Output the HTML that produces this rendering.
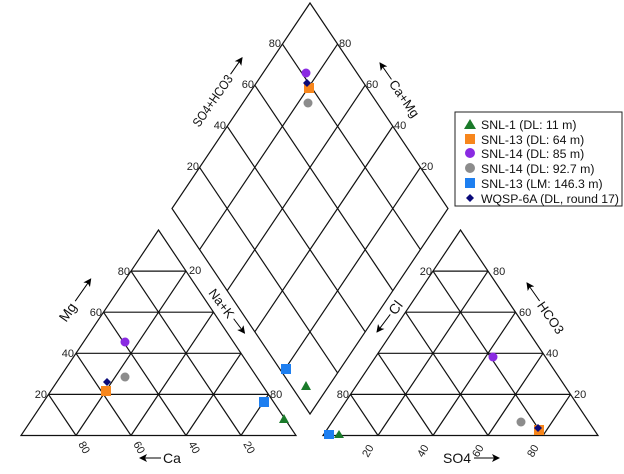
<!DOCTYPE html>
<html><head><meta charset="utf-8"><style>
body{margin:0;background:#fff;width:624px;height:469px;overflow:hidden}
svg{font-family:"Liberation Sans",Arial,sans-serif}
.t{font-size:11px;fill:#222}
.a{font-size:14px;fill:#111}
.l{font-size:12.3px;fill:#111}
</style></head><body>
<svg width="624" height="469" viewBox="0 0 624 469">
<defs>
<marker id="ar" markerWidth="8" markerHeight="8" refX="7" refY="4" orient="auto" markerUnits="userSpaceOnUse">
<path d="M0,0 L8,4 L0,8 L2,4 Z" fill="#000"/></marker>
<g id="tri" stroke="#111" stroke-width="1.2" fill="none">
<polygon points="21,435.5 296,435.5 158.5,230"/>
<line x1="48.5" y1="394.4" x2="268.5" y2="394.4"/>
<line x1="76" y1="353.3" x2="241" y2="353.3"/>
<line x1="103.5" y1="312.2" x2="213.5" y2="312.2"/>
<line x1="131" y1="271.1" x2="186" y2="271.1"/>
<line x1="76" y1="435.5" x2="186" y2="271.1"/>
<line x1="131" y1="435.5" x2="213.5" y2="312.2"/>
<line x1="186" y1="435.5" x2="241" y2="353.3"/>
<line x1="241" y1="435.5" x2="268.5" y2="394.4"/>
<line x1="76" y1="435.5" x2="48.5" y2="394.4"/>
<line x1="131" y1="435.5" x2="76" y2="353.3"/>
<line x1="186" y1="435.5" x2="103.5" y2="312.2"/>
<line x1="241" y1="435.5" x2="131" y2="271.1"/>
</g>
</defs>
<use href="#tri"/>
<use href="#tri" transform="translate(302,0)"/>
<g stroke="#111" stroke-width="1.2" fill="none">
<polygon points="310,414 172,208.5 310,3 448,208.5"/>
<line x1="337.6" y1="372.9" x2="199.6" y2="167.4"/>
<line x1="365.2" y1="331.8" x2="227.2" y2="126.3"/>
<line x1="392.8" y1="290.7" x2="254.8" y2="85.2"/>
<line x1="420.4" y1="249.6" x2="282.4" y2="44.1"/>
<line x1="282.4" y1="372.9" x2="420.4" y2="167.4"/>
<line x1="254.8" y1="331.8" x2="392.8" y2="126.3"/>
<line x1="227.2" y1="290.7" x2="365.2" y2="85.2"/>
<line x1="199.6" y1="249.6" x2="337.6" y2="44.1"/>
</g>
<g class="t">
<text x="47" y="398" text-anchor="end">20</text>
<text x="74" y="357" text-anchor="end">40</text>
<text x="102" y="316" text-anchor="end">60</text>
<text x="130" y="275" text-anchor="end">80</text>
<text x="189" y="274">20</text>
<text x="270" y="398">80</text>
<text transform="translate(78,444) rotate(60)">80</text>
<text transform="translate(133,444) rotate(60)">60</text>
<text transform="translate(188,444) rotate(60)">40</text>
<text transform="translate(243,444) rotate(60)">20</text>
<text x="432" y="275" text-anchor="end">20</text>
<text x="349" y="398" text-anchor="end">80</text>
<text x="493" y="275">80</text>
<text x="519" y="316">60</text>
<text x="546" y="357">40</text>
<text x="574" y="398">20</text>
<text transform="translate(368,458) rotate(-60)">20</text>
<text transform="translate(423,458) rotate(-60)">40</text>
<text transform="translate(478,458) rotate(-60)">60</text>
<text transform="translate(533,458) rotate(-60)">80</text>
<text x="281" y="47" text-anchor="end">80</text>
<text x="254" y="88" text-anchor="end">60</text>
<text x="226" y="129" text-anchor="end">40</text>
<text x="199" y="170" text-anchor="end">20</text>
<text x="339" y="47">80</text>
<text x="366" y="88">60</text>
<text x="394" y="129">40</text>
<text x="421" y="170">20</text>
</g>
<!-- axis labels with arrows -->
<g class="a">
<g transform="translate(62,320) rotate(-55)">
<text x="0" y="5">Mg</text>
<line x1="23" y1="0" x2="50" y2="0" stroke="#000" marker-end="url(#ar)"/>
</g>
<text x="163" y="463">Ca</text>
<line x1="161" y1="458" x2="140" y2="458" stroke="#000" marker-end="url(#ar)"/>
<text x="443" y="463">SO4</text>
<line x1="474" y1="458" x2="499" y2="458" stroke="#000" marker-end="url(#ar)"/>
<g transform="translate(195,125) rotate(-55)">
<text x="0" y="5" font-size="13" textLength="60" lengthAdjust="spacingAndGlyphs">SO4+HCO3</text>
<line x1="62" y1="0" x2="82" y2="0" stroke="#000" marker-end="url(#ar)"/>
</g>
<g transform="translate(380,63) rotate(55)">
<line x1="20" y1="0" x2="0" y2="0" stroke="#000" marker-end="url(#ar)"/>
<text x="22" y="5" font-size="13">Ca+Mg</text>
</g>
<g transform="translate(212,290) rotate(53)">
<text x="0" y="5" font-size="13">Na+K</text>
<line x1="36" y1="0" x2="54" y2="0" stroke="#000" marker-end="url(#ar)"/>
</g>
<g transform="translate(377,332) rotate(-53)">
<line x1="22" y1="0" x2="0" y2="0" stroke="#000" marker-end="url(#ar)"/>
<text x="24" y="5">Cl</text>
</g>
<g transform="translate(527,283) rotate(55)">
<line x1="22" y1="0" x2="0" y2="0" stroke="#000" marker-end="url(#ar)"/>
<text x="24" y="5" font-size="13">HCO3</text>
</g>
</g>
<g>
<circle cx="125" cy="342" r="4.5" fill="#8a2be2"/>
<circle cx="125" cy="377" r="4.5" fill="#8c8c8c"/>
<rect x="101" y="386" width="10" height="10" fill="#f7861c"/>
<polygon points="107,378 111,382 107,386 103,382" fill="#0a0a7a"/>
<rect x="259" y="397" width="10" height="10" fill="#1e7ff0"/>
<polygon points="284,414 289,423 279,423" fill="#1a7a2a"/>
<circle cx="493" cy="357" r="4.5" fill="#8a2be2"/>
<circle cx="521" cy="422" r="4.5" fill="#8c8c8c"/>
<rect x="534" y="425" width="10" height="10" fill="#f7861c"/>
<polygon points="538,424 542,428 538,432 534,428" fill="#0a0a7a"/>
<rect x="324" y="430" width="10" height="9" fill="#1e7ff0"/>
<polygon points="339,430 344,438 334,438" fill="#1a7a2a"/>
<circle cx="306" cy="73" r="4.5" fill="#8a2be2"/>
<rect x="304" y="83" width="10" height="10" fill="#f7861c"/>
<polygon points="307,79 311,83 307,87 303,83" fill="#0a0a7a"/>
<circle cx="308" cy="103" r="4.5" fill="#8c8c8c"/>
<rect x="281" y="364" width="10" height="10" fill="#1e7ff0"/>
<polygon points="306,381 311,390 301,390" fill="#1a7a2a"/>
</g>
<rect x="455" y="112" width="167" height="94" fill="#fff" stroke="#222" stroke-width="1"/>
<polygon points="470,119 476,129 464,129" fill="#1a7a2a"/>
<rect x="465" y="134" width="10" height="10" fill="#f7861c"/>
<circle cx="470" cy="153" r="5" fill="#8a2be2"/>
<circle cx="470" cy="168" r="5" fill="#8c8c8c"/>
<rect x="465" y="178" width="10" height="10" fill="#1e7ff0"/>
<polygon points="470,194 474,198 470,202 466,198" fill="#0a0a7a"/>
<g class="l">
<text x="481" y="129">SNL-1 (DL: 11 m)</text>
<text x="481" y="144">SNL-13 (DL: 64 m)</text>
<text x="481" y="158">SNL-14 (DL: 85 m)</text>
<text x="481" y="173">SNL-14 (DL: 92.7 m)</text>
<text x="481" y="188">SNL-13 (LM: 146.3 m)</text>
<text x="481" y="203" textLength="138" lengthAdjust="spacingAndGlyphs">WQSP-6A (DL, round 17)</text>
</g>
</svg>
</body></html>
